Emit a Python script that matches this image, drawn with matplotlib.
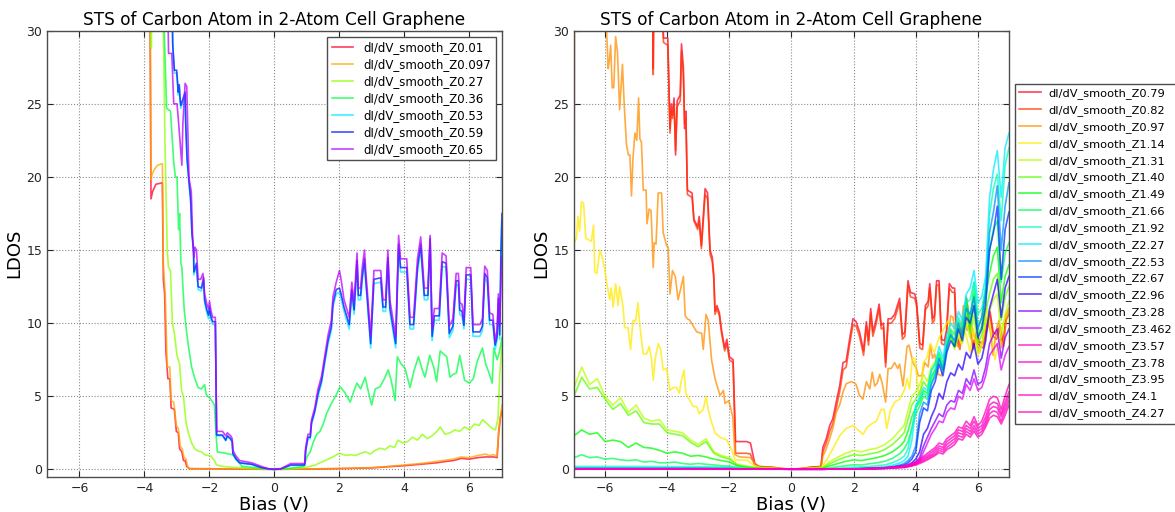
import matplotlib
matplotlib.use("Agg")
import matplotlib.pyplot as plt
from matplotlib import cm

# ---------------- left panel: tip heights Z0.01 ... Z0.65 ----------------
left_labels = ["dI/dV_smooth_Z0.01", "dI/dV_smooth_Z0.097", "dI/dV_smooth_Z0.27",
               "dI/dV_smooth_Z0.36", "dI/dV_smooth_Z0.53", "dI/dV_smooth_Z0.59",
               "dI/dV_smooth_Z0.65"]

# (bias, LDOS) samples
l_z001 = [(-3.85, 40), (-3.8, 18.5), (-3.75, 19.0), (-3.65, 19.5), (-3.45, 19.6), (-3.42, 13.0),
          (-3.38, 12.0), (-3.34, 8.0), (-3.28, 6.2), (-3.22, 6.2), (-3.18, 4.2), (-3.08, 4.1),
          (-3.02, 2.6), (-2.96, 2.5), (-2.92, 1.4), (-2.85, 1.2), (-2.8, 0.6), (-2.75, 0.6),
          (-2.7, 0.2), (-2.62, 0.05), (-1.0, 0.02), (0.0, 0.0), (1.0, 0.02), (2.0, 0.05),
          (3.0, 0.1), (3.5, 0.18), (4.0, 0.25), (4.5, 0.35), (5.0, 0.45), (5.3, 0.55),
          (5.5, 0.6), (5.75, 0.75), (6.0, 0.7), (6.25, 0.8), (6.5, 0.85), (6.75, 0.85),
          (6.85, 0.8), (6.9, 2.5), (6.95, 3.5), (7.0, 4.0)]
l_z0097 = [(-3.85, 40), (-3.82, 30), (-3.8, 19.8), (-3.76, 20.2), (-3.7, 20.5), (-3.6, 20.8),
           (-3.45, 20.9), (-3.42, 14.0), (-3.36, 12.0), (-3.3, 7.0), (-3.22, 7.0), (-3.18, 4.7),
           (-3.1, 4.6), (-3.02, 3.0), (-2.96, 2.8), (-2.9, 1.6), (-2.84, 1.4), (-2.78, 0.8),
           (-2.72, 0.7), (-2.66, 0.1), (-2.6, 0.03), (-1.0, 0.03), (0.0, 0.0), (1.0, 0.03),
           (2.0, 0.06), (3.0, 0.12), (3.5, 0.2), (4.0, 0.3), (4.5, 0.4), (5.0, 0.55),
           (5.5, 0.7), (5.75, 0.85), (6.0, 0.8), (6.25, 0.95), (6.5, 1.05), (6.6, 0.95),
           (6.75, 1.0), (6.85, 0.9), (6.9, 2.8), (7.0, 4.4)]
l_z027 = [(-3.82, 35), (-3.79, 28.8), (-3.76, 35), (-3.45, 35), (-3.42, 30.5), (-3.37, 22.3),
          (-3.3, 15.0), (-3.26, 13.8), (-3.2, 13.6), (-3.14, 10.0), (-3.08, 9.3), (-3.0, 7.8),
          (-2.92, 7.2), (-2.86, 5.4), (-2.8, 5.0), (-2.72, 3.2), (-2.65, 2.5), (-2.55, 1.8),
          (-2.45, 1.4), (-2.35, 1.25), (-2.25, 1.2), (-2.15, 1.0), (-2.05, 0.95), (-1.95, 0.9),
          (-1.85, 0.6), (-1.78, 0.3), (-1.6, 0.2), (-1.2, 0.12), (-0.6, 0.06), (0.0, 0.0),
          (0.6, 0.06), (1.0, 0.15), (1.25, 0.3), (1.5, 0.55), (1.75, 0.8), (2.0, 1.1),
          (2.2, 0.95), (2.35, 1.0), (2.5, 0.95), (2.65, 1.1), (2.8, 1.2), (2.95, 1.05),
          (3.1, 1.3), (3.25, 1.45), (3.4, 1.35), (3.55, 1.6), (3.7, 1.5), (3.8, 2.0),
          (3.95, 1.8), (4.1, 1.9), (4.25, 2.2), (4.4, 2.0), (4.55, 2.4), (4.7, 2.1),
          (4.85, 2.3), (5.0, 2.6), (5.1, 2.9), (5.25, 2.4), (5.4, 2.5), (5.55, 2.7),
          (5.7, 2.6), (5.85, 2.9), (6.0, 2.7), (6.15, 3.1), (6.3, 3.0), (6.4, 3.4),
          (6.55, 3.1), (6.7, 2.8), (6.8, 2.7), (6.88, 3.5), (6.93, 6.5), (7.0, 8.5)]
l_z036 = [(-3.45, 35), (-3.4, 30.5), (-3.32, 24.7), (-3.2, 24.5), (-3.1, 21.0), (-3.05, 20.0),
          (-3.0, 20.0), (-2.95, 16.4), (-2.92, 17.5), (-2.88, 14.1), (-2.85, 13.8), (-2.78, 11.0),
          (-2.7, 9.3), (-2.62, 8.0), (-2.55, 7.0), (-2.45, 6.2), (-2.35, 5.6), (-2.25, 5.5),
          (-2.15, 5.8), (-2.1, 5.1), (-2.0, 4.9), (-1.9, 4.6), (-1.85, 4.4), (-1.8, 2.5),
          (-1.76, 1.2), (-1.5, 1.1), (-1.3, 1.0), (-1.2, 0.8), (-1.1, 0.5), (-1.0, 0.2),
          (-0.5, 0.1), (0.0, 0.0), (0.5, 0.08), (0.9, 0.2), (1.0, 0.86), (1.1, 1.2),
          (1.2, 1.9), (1.3, 2.4), (1.4, 2.6), (1.5, 3.1), (1.6, 3.8), (1.75, 4.5),
          (1.9, 5.1), (2.02, 5.65), (2.15, 5.3), (2.33, 4.6), (2.45, 5.4), (2.54, 5.9),
          (2.65, 5.5), (2.79, 6.3), (2.9, 5.2), (2.99, 4.4), (3.1, 5.5), (3.25, 5.65),
          (3.38, 6.2), (3.5, 6.8), (3.6, 6.0), (3.71, 4.7), (3.78, 7.7), (3.9, 7.2),
          (4.02, 6.9), (4.1, 6.2), (4.17, 5.6), (4.3, 6.8), (4.43, 7.7), (4.55, 6.8),
          (4.63, 6.3), (4.78, 7.8), (4.9, 7.0), (4.99, 6.0), (5.1, 8.1), (5.3, 7.7),
          (5.4, 6.3), (5.5, 6.5), (5.6, 6.6), (5.7, 7.8), (5.85, 6.1), (6.0, 5.9),
          (6.12, 6.2), (6.24, 7.4), (6.4, 8.3), (6.5, 7.2), (6.6, 6.6), (6.7, 5.9),
          (6.75, 8.3), (6.85, 7.5), (6.92, 8.0), (7.0, 9.0)]
l_z053 = [(-3.18, 35), (-3.13, 29.0), (-3.08, 27.1), (-3.01, 27.1), (-2.96, 25.6), (-2.93, 26.1),
          (-2.9, 25.0), (-2.88, 24.7), (-2.75, 25.6), (-2.73, 23.4), (-2.69, 21.1), (-2.63, 19.5),
          (-2.58, 18.3), (-2.54, 16.0), (-2.49, 14.8), (-2.48, 13.3), (-2.4, 13.9), (-2.35, 12.3),
          (-2.25, 12.2), (-2.18, 12.9), (-2.15, 11.4), (-2.08, 10.7), (-2.03, 10.3), (-2.0, 10.9),
          (-1.95, 10.2), (-1.9, 9.9), (-1.82, 9.9), (-1.78, 2.3), (-1.6, 2.3), (-1.5, 1.95),
          (-1.45, 2.25), (-1.35, 2.05), (-1.3, 1.85), (-1.28, 1.05), (-1.18, 0.65), (-1.07, 0.42),
          (-0.7, 0.33), (-0.4, 0.11), (-0.2, 0.04), (0.0, 0.0), (0.2, 0.04), (0.5, 0.28),
          (0.93, 0.28), (0.96, 1.25), (1.03, 2.1), (1.1, 2.1), (1.14, 3.1), (1.24, 3.9),
          (1.34, 5.0), (1.45, 5.9), (1.55, 7.3), (1.65, 8.6), (1.75, 9.5), (1.8, 11.1),
          (1.9, 12.0), (2.0, 12.1), (2.05, 11.7), (2.14, 10.8), (2.3, 9.6), (2.38, 12.0),
          (2.45, 10.6), (2.54, 14.0), (2.58, 11.6), (2.65, 11.6), (2.7, 12.9), (2.77, 14.1),
          (2.81, 12.7), (2.86, 11.3), (2.96, 8.3), (3.06, 12.7), (3.27, 12.8), (3.34, 10.8),
          (3.42, 10.8), (3.49, 14.2), (3.55, 10.8), (3.73, 8.3), (3.82, 15.1), (3.88, 13.5),
          (4.07, 13.5), (4.17, 9.6), (4.28, 9.6), (4.4, 13.5), (4.5, 15.1), (4.61, 11.6),
          (4.72, 11.6), (4.79, 15.5), (4.85, 8.8), (4.92, 10.2), (5.07, 10.2), (5.16, 13.9),
          (5.28, 13.8), (5.38, 9.0), (5.49, 9.5), (5.59, 12.6), (5.66, 12.6), (5.7, 10.6),
          (5.77, 10.5), (5.83, 9.6), (5.9, 13.0), (6.04, 13.0), (6.11, 9.1), (6.32, 9.1),
          (6.4, 9.5), (6.47, 13.1), (6.55, 12.8), (6.62, 9.9), (6.72, 9.9), (6.79, 8.2),
          (6.85, 8.8), (6.89, 11.4), (6.93, 8.9), (6.97, 14.6), (7.0, 17.0)]
l_z059 = [(-3.18, 35), (-3.13, 29.0), (-3.08, 27.3), (-3.01, 27.3), (-2.96, 25.8), (-2.93, 26.3),
          (-2.9, 25.2), (-2.88, 24.9), (-2.75, 25.8), (-2.73, 23.6), (-2.69, 21.3), (-2.63, 19.7),
          (-2.58, 18.5), (-2.54, 16.2), (-2.49, 15.0), (-2.48, 13.5), (-2.4, 14.1), (-2.35, 12.5),
          (-2.25, 12.4), (-2.18, 13.1), (-2.15, 11.6), (-2.08, 10.9), (-2.03, 10.55), (-2.0, 11.1),
          (-1.95, 10.4), (-1.9, 10.1), (-1.82, 10.1), (-1.78, 2.35), (-1.6, 2.35), (-1.5, 2.0),
          (-1.45, 2.3), (-1.35, 2.1), (-1.3, 1.9), (-1.28, 1.1), (-1.18, 0.7), (-1.07, 0.45),
          (-0.7, 0.35), (-0.4, 0.12), (-0.2, 0.04), (0.0, 0.0), (0.2, 0.04), (0.5, 0.3),
          (0.93, 0.3), (0.96, 1.32), (1.03, 2.2), (1.1, 2.2), (1.14, 3.2), (1.24, 4.0),
          (1.34, 5.2), (1.45, 6.1), (1.55, 7.5), (1.65, 8.85), (1.75, 9.75), (1.8, 11.35),
          (1.9, 12.3), (2.0, 12.4), (2.05, 12.0), (2.14, 11.1), (2.3, 9.9), (2.38, 12.3),
          (2.45, 10.9), (2.54, 14.3), (2.58, 11.9), (2.65, 11.9), (2.7, 13.2), (2.77, 14.4),
          (2.81, 13.0), (2.86, 11.6), (2.96, 8.6), (3.06, 13.0), (3.27, 13.1), (3.34, 11.1),
          (3.42, 11.1), (3.49, 14.5), (3.55, 11.1), (3.73, 8.6), (3.82, 15.4), (3.88, 13.8),
          (4.07, 13.8), (4.17, 9.9), (4.28, 9.9), (4.4, 13.8), (4.5, 15.4), (4.61, 11.9),
          (4.72, 11.9), (4.79, 15.8), (4.85, 9.1), (4.92, 10.5), (5.07, 10.5), (5.16, 14.2),
          (5.28, 14.1), (5.38, 9.3), (5.49, 9.8), (5.59, 12.9), (5.66, 12.9), (5.7, 10.9),
          (5.77, 10.8), (5.83, 9.85), (5.9, 13.3), (6.04, 13.3), (6.11, 9.4), (6.32, 9.4),
          (6.4, 9.8), (6.47, 13.4), (6.55, 13.1), (6.62, 10.2), (6.72, 10.2), (6.79, 8.5),
          (6.85, 9.1), (6.89, 11.7), (6.93, 9.2), (6.97, 15.0), (7.0, 17.5)]
l_z065 = [(-3.3, 35), (-3.26, 28.45), (-3.16, 28.45), (-3.1, 25.0), (-3.0, 25.0), (-2.96, 24.0),
          (-2.85, 20.8), (-2.82, 23.6), (-2.75, 26.4), (-2.7, 26.2), (-2.63, 19.9), (-2.56, 19.0),
          (-2.52, 16.0), (-2.48, 14.5), (-2.45, 15.2), (-2.4, 15.0), (-2.35, 13.0), (-2.27, 13.0),
          (-2.2, 13.4), (-2.15, 12.0), (-2.08, 11.3), (-2.03, 11.0), (-2.0, 11.5), (-1.95, 10.8),
          (-1.9, 10.4), (-1.82, 10.4), (-1.78, 2.6), (-1.6, 2.6), (-1.5, 2.3), (-1.45, 2.5),
          (-1.35, 2.3), (-1.3, 2.1), (-1.28, 1.3), (-1.18, 0.9), (-1.07, 0.6), (-0.7, 0.45),
          (-0.4, 0.2), (-0.2, 0.05), (0.0, 0.0), (0.2, 0.05), (0.5, 0.4), (0.93, 0.4),
          (0.96, 1.5), (1.03, 2.4), (1.1, 2.4), (1.14, 3.4), (1.24, 4.2), (1.34, 5.5),
          (1.45, 6.4), (1.55, 7.8), (1.65, 9.2), (1.75, 10.2), (1.8, 11.8), (1.9, 12.8),
          (2.0, 13.6), (2.05, 13.0), (2.14, 11.6), (2.3, 10.4), (2.38, 12.8), (2.45, 11.4),
          (2.54, 14.8), (2.58, 12.4), (2.65, 12.4), (2.7, 13.8), (2.77, 15.0), (2.81, 13.5),
          (2.86, 12.1), (2.96, 9.1), (3.06, 13.6), (3.27, 13.6), (3.34, 11.6), (3.42, 11.6),
          (3.49, 15.0), (3.55, 11.6), (3.73, 9.1), (3.82, 16.0), (3.88, 14.4), (4.07, 14.4),
          (4.17, 10.4), (4.28, 10.4), (4.4, 14.4), (4.5, 15.9), (4.61, 12.4), (4.72, 12.4),
          (4.79, 16.0), (4.85, 9.6), (4.92, 11.0), (5.07, 11.0), (5.16, 14.8), (5.28, 14.6),
          (5.38, 9.8), (5.49, 10.3), (5.59, 13.4), (5.66, 13.4), (5.7, 11.4), (5.77, 11.3),
          (5.83, 10.3), (5.9, 13.8), (6.04, 13.8), (6.11, 9.9), (6.32, 9.9), (6.4, 10.3),
          (6.47, 13.9), (6.55, 13.6), (6.62, 10.7), (6.72, 10.6), (6.79, 8.8), (6.85, 9.5),
          (6.89, 12.0), (6.93, 9.8), (6.97, 13.0), (7.0, 14.5)]
left_series = [l_z001, l_z0097, l_z027, l_z036, l_z053, l_z059, l_z065]

# ---------------- right panel: tip heights Z0.79 ... Z4.27 ----------------
right_labels = ["dI/dV_smooth_Z0.79", "dI/dV_smooth_Z0.82", "dI/dV_smooth_Z0.97",
                "dI/dV_smooth_Z1.14", "dI/dV_smooth_Z1.31", "dI/dV_smooth_Z1.40",
                "dI/dV_smooth_Z1.49", "dI/dV_smooth_Z1.66", "dI/dV_smooth_Z1.92",
                "dI/dV_smooth_Z2.27", "dI/dV_smooth_Z2.53", "dI/dV_smooth_Z2.67",
                "dI/dV_smooth_Z2.96", "dI/dV_smooth_Z3.28", "dI/dV_smooth_Z3.462",
                "dI/dV_smooth_Z3.57", "dI/dV_smooth_Z3.78", "dI/dV_smooth_Z3.95",
                "dI/dV_smooth_Z4.1", "dI/dV_smooth_Z4.27"]

r_z079 = [(-7.0, 0.0), (-6.99, 34), (-4.47, 33), (-4.45, 27.4), (-4.43, 33), (-4.15, 32),
          (-4.12, 29.5), (-3.98, 29.5), (-3.91, 23.3), (-3.87, 25.0), (-3.83, 24.2), (-3.78, 25.4),
          (-3.73, 21.5), (-3.68, 25.2), (-3.58, 25.6), (-3.54, 29.1), (-3.48, 27.5), (-3.44, 23.3),
          (-3.4, 24.5), (-3.35, 19.1), (-3.2, 18.9), (-3.14, 17.1), (-3.02, 16.6), (-2.97, 17.3),
          (-2.9, 15.3), (-2.78, 19.2), (-2.7, 18.9), (-2.62, 15.0), (-2.55, 14.5), (-2.5, 13.3),
          (-2.46, 10.8), (-2.4, 11.2), (-2.32, 10.7), (-2.25, 9.5), (-2.15, 8.3), (-2.08, 8.9),
          (-2.0, 7.7), (-1.88, 7.5), (-1.8, 1.9), (-1.44, 1.9), (-1.32, 1.8), (-1.26, 1.2),
          (-1.18, 0.4), (-1.05, 0.2), (-0.6, 0.15), (-0.3, 0.05), (0.0, 0.02), (0.3, 0.05),
          (0.6, 0.15), (0.95, 0.2), (1.01, 1.5), (1.12, 2.1), (1.23, 3.0), (1.33, 3.45),
          (1.44, 4.6), (1.55, 5.7), (1.66, 7.3), (1.76, 7.4), (1.87, 8.9), (1.98, 10.3),
          (2.08, 10.1), (2.19, 9.4), (2.32, 8.1), (2.41, 10.1), (2.48, 8.8), (2.55, 11.0),
          (2.62, 9.4), (2.73, 10.3), (2.82, 11.3), (2.89, 9.85), (2.96, 10.0), (3.03, 7.3),
          (3.11, 10.3), (3.21, 10.3), (3.32, 10.6), (3.48, 11.7), (3.57, 9.2), (3.65, 9.4),
          (3.75, 12.9), (3.83, 12.1), (3.97, 12.0), (4.03, 11.4), (4.13, 8.6), (4.22, 8.5),
          (4.31, 11.2), (4.4, 11.5), (4.45, 12.7), (4.54, 10.3), (4.6, 10.5), (4.67, 12.9),
          (4.75, 12.9), (4.83, 8.9), (4.92, 8.8), (4.99, 9.5), (5.08, 12.7), (5.18, 12.4),
          (5.25, 12.4), (5.31, 9.2), (5.42, 8.5), (5.53, 10.3), (5.63, 11.7), (5.74, 9.85),
          (5.85, 8.5), (5.96, 9.4), (6.06, 8.7), (6.17, 8.6), (6.28, 9.85), (6.39, 10.8),
          (6.49, 9.4), (6.6, 9.2), (6.71, 9.85), (6.82, 8.7), (6.9, 10.5), (7.0, 11.0)]
r_z082 = [(-7.0, 0.0), (-6.99, 33), (-4.47, 32), (-4.45, 27.0), (-4.43, 32), (-4.15, 31),
          (-4.12, 29.2), (-3.98, 29.0), (-3.91, 23.0), (-3.87, 24.6), (-3.83, 24.0), (-3.78, 25.0),
          (-3.73, 21.8), (-3.68, 24.8), (-3.58, 25.2), (-3.54, 28.6), (-3.48, 27.0), (-3.44, 23.6),
          (-3.4, 24.0), (-3.35, 18.8), (-3.2, 18.6), (-3.14, 17.0), (-3.02, 16.4), (-2.97, 17.0),
          (-2.9, 15.1), (-2.78, 18.8), (-2.7, 18.5), (-2.62, 14.7), (-2.55, 14.2), (-2.5, 13.0),
          (-2.46, 10.6), (-2.4, 11.0), (-2.32, 10.5), (-2.25, 9.3), (-2.15, 8.1), (-2.08, 8.6),
          (-2.0, 7.5), (-1.88, 7.3), (-1.8, 1.1), (-1.44, 1.1), (-1.32, 1.05), (-1.26, 0.7),
          (-1.18, 0.3), (-1.05, 0.15), (-0.6, 0.1), (-0.3, 0.04), (0.0, 0.02), (0.3, 0.04),
          (0.6, 0.12), (0.95, 0.18), (1.01, 1.2), (1.12, 1.8), (1.23, 2.6), (1.33, 3.1),
          (1.44, 4.2), (1.55, 5.3), (1.66, 6.8), (1.76, 7.0), (1.87, 8.5), (1.98, 9.9),
          (2.08, 9.8), (2.19, 9.1), (2.32, 7.8), (2.41, 9.8), (2.48, 8.5), (2.55, 10.7),
          (2.62, 9.1), (2.73, 10.0), (2.82, 11.0), (2.89, 9.6), (2.96, 9.7), (3.03, 7.0),
          (3.11, 10.0), (3.21, 10.0), (3.32, 10.3), (3.48, 11.4), (3.57, 8.9), (3.65, 9.1),
          (3.75, 12.6), (3.83, 11.8), (3.97, 11.7), (4.03, 11.1), (4.13, 8.3), (4.22, 8.2),
          (4.31, 10.9), (4.4, 11.2), (4.45, 12.4), (4.54, 10.0), (4.6, 10.2), (4.67, 12.6),
          (4.75, 12.6), (4.83, 8.6), (4.92, 8.5), (4.99, 9.2), (5.08, 12.4), (5.18, 12.1),
          (5.25, 12.1), (5.31, 8.9), (5.42, 8.2), (5.53, 10.0), (5.63, 11.4), (5.74, 9.5),
          (5.85, 8.2), (5.96, 9.1), (6.06, 8.4), (6.17, 8.3), (6.28, 9.5), (6.39, 10.5),
          (6.49, 9.1), (6.6, 8.9), (6.71, 9.5), (6.82, 8.4), (6.9, 10.2), (7.0, 10.6)]
r_z097 = [(-7.0, 0.0), (-6.99, 34), (-6.0, 33), (-5.96, 30.5), (-5.9, 27.4), (-5.86, 28.0),
          (-5.82, 29.0), (-5.77, 26.1), (-5.72, 26.1), (-5.66, 29.6), (-5.6, 28.5), (-5.53, 24.6),
          (-5.44, 27.7), (-5.38, 24.8), (-5.31, 22.2), (-5.25, 21.5), (-5.2, 21.5), (-5.15, 18.7),
          (-5.1, 21.3), (-5.04, 23.0), (-4.98, 22.5), (-4.92, 25.4), (-4.88, 22.6), (-4.83, 22.4),
          (-4.77, 19.1), (-4.68, 19.1), (-4.65, 16.8), (-4.58, 17.8), (-4.52, 17.7), (-4.45, 13.8),
          (-4.42, 15.5), (-4.36, 15.4), (-4.29, 18.9), (-4.18, 18.9), (-4.13, 16.2), (-4.02, 15.3),
          (-3.97, 15.2), (-3.91, 12.0), (-3.83, 13.6), (-3.74, 13.2), (-3.65, 11.6), (-3.55, 12.5),
          (-3.48, 13.2), (-3.42, 10.5), (-3.35, 10.3), (-3.27, 10.2), (-3.05, 9.4), (-2.89, 9.3),
          (-2.84, 8.2), (-2.75, 10.6), (-2.68, 10.2), (-2.57, 7.45), (-2.46, 6.2), (-2.3, 5.05),
          (-2.19, 5.4), (-2.14, 4.5), (-2.02, 4.7), (-1.89, 3.6), (-1.82, 1.0), (-1.66, 0.85),
          (-1.33, 0.8), (-1.23, 0.55), (-1.12, 0.2), (-0.6, 0.1), (0.0, 0.02), (0.6, 0.1),
          (0.95, 0.15), (1.01, 0.9), (1.12, 1.4), (1.23, 2.1), (1.33, 2.8), (1.44, 3.9),
          (1.55, 4.4), (1.66, 5.3), (1.76, 5.85), (1.92, 6.0), (2.03, 5.9), (2.08, 5.8),
          (2.19, 5.05), (2.3, 4.8), (2.41, 6.0), (2.52, 5.5), (2.6, 6.65), (2.68, 5.7),
          (2.76, 5.9), (2.84, 6.5), (2.92, 5.9), (3.03, 4.6), (3.11, 6.9), (3.21, 6.9),
          (3.32, 7.3), (3.42, 6.9), (3.48, 7.2), (3.59, 5.7), (3.72, 8.4), (3.78, 8.5),
          (3.91, 7.3), (4.02, 6.9), (4.08, 6.4), (4.19, 6.4), (4.29, 7.3), (4.4, 7.0),
          (4.47, 8.5), (4.54, 7.6), (4.61, 7.9), (4.72, 6.5), (4.83, 6.4), (4.93, 7.8),
          (5.04, 8.5), (5.12, 10.5), (5.2, 10.4), (5.31, 8.5), (5.42, 8.3), (5.53, 11.2),
          (5.65, 9.5), (5.78, 10.0), (5.9, 9.0), (6.05, 8.0), (6.17, 9.0), (6.28, 10.3),
          (6.4, 9.5), (6.49, 7.8), (6.6, 9.6), (6.68, 10.2), (6.76, 8.3), (6.85, 9.0),
          (6.92, 10.3), (7.0, 10.8)]
r_z114 = [(-7.0, 15.5), (-6.92, 15.8), (-6.87, 17.3), (-6.82, 16.3), (-6.76, 18.3), (-6.69, 18.2),
          (-6.62, 15.8), (-6.44, 15.6), (-6.37, 16.7), (-6.33, 13.5), (-6.26, 13.4), (-6.17, 15.0),
          (-6.1, 14.6), (-6.01, 13.7), (-5.95, 12.8), (-5.85, 11.6), (-5.8, 12.4), (-5.74, 11.1),
          (-5.66, 12.7), (-5.58, 11.2), (-5.53, 12.5), (-5.42, 11.1), (-5.37, 9.7), (-5.26, 9.7),
          (-5.18, 8.2), (-5.1, 10.2), (-5.02, 10.1), (-4.94, 11.4), (-4.88, 9.8), (-4.77, 7.9),
          (-4.66, 7.9), (-4.58, 8.4), (-4.5, 7.5), (-4.45, 6.1), (-4.39, 7.5), (-4.29, 8.6),
          (-4.21, 8.2), (-4.13, 6.8), (-4.02, 6.9), (-3.91, 5.4), (-3.8, 5.6), (-3.7, 5.6),
          (-3.61, 5.2), (-3.54, 6.1), (-3.46, 6.8), (-3.4, 5.2), (-3.27, 4.7), (-3.16, 4.3),
          (-3.05, 4.3), (-2.97, 3.8), (-2.84, 4.1), (-2.75, 5.0), (-2.68, 4.1), (-2.57, 3.2),
          (-2.46, 2.5), (-2.3, 2.2), (-2.08, 2.0), (-1.92, 1.3), (-1.81, 0.64), (-1.44, 0.64),
          (-1.23, 0.3), (-1.0, 0.1), (0.0, 0.02), (0.95, 0.1), (1.05, 0.4), (1.15, 0.7),
          (1.33, 1.4), (1.55, 2.3), (1.76, 2.8), (1.98, 3.0), (2.14, 2.7), (2.3, 2.4),
          (2.45, 2.9), (2.57, 3.1), (2.73, 3.3), (2.89, 4.1), (2.98, 4.1), (3.07, 2.8),
          (3.18, 4.0), (3.32, 4.6), (3.48, 4.8), (3.65, 5.5), (3.72, 6.2), (3.8, 5.5),
          (3.89, 7.6), (3.97, 7.6), (4.08, 5.4), (4.15, 4.8), (4.24, 7.3), (4.35, 7.6),
          (4.47, 8.6), (4.6, 8.0), (4.75, 9.0), (4.9, 9.6), (5.05, 10.2), (5.15, 9.0),
          (5.3, 9.8), (5.45, 8.6), (5.6, 9.4), (5.75, 8.0), (5.85, 9.5), (6.0, 7.8),
          (6.15, 8.6), (6.3, 11.0), (6.45, 9.0), (6.55, 7.5), (6.7, 9.2), (6.85, 10.2),
          (7.0, 11.0)]

# bias grid shared by the Z1.31 ... Z1.66 curves
bias_full = [-7.0, -6.75, -6.5, -6.25, -6.0, -5.75, -5.5, -5.25, -5.0, -4.75, -4.5, -4.25,
             -4.0, -3.75, -3.5, -3.25, -3.0, -2.75, -2.5, -2.25, -2.0, -1.75, -1.5, -1.25,
             -1.0, -0.5, 0.0, 0.5, 1.0, 1.25, 1.5, 1.75, 2.0, 2.25, 2.5, 2.75, 3.0, 3.25,
             3.5, 3.625, 3.75, 3.875, 4.0, 4.125, 4.25, 4.375, 4.5, 4.625, 4.75, 4.875,
             5.0, 5.125, 5.25, 5.375, 5.5, 5.625, 5.75, 5.875, 6.0, 6.125, 6.25, 6.375,
             6.5, 6.625, 6.75, 6.875, 7.0]
r_z131 = [5.6, 7.0, 5.8, 6.2, 5.0, 4.4, 4.9, 3.9, 4.4, 3.5, 3.3, 3.4, 2.7, 2.6, 2.5, 2.0, 1.7,
          2.1, 1.2, 0.95, 0.8, 0.35, 0.25, 0.15, 0.1,
          0.05, 0.01, 0.05, 0.15,
          0.55, 0.85, 1.1, 1.3, 1.2, 1.35, 1.45, 1.7, 2.1, 2.7,
          3.0, 4.0, 5.0, 5.3, 5.8, 6.5, 6.0, 7.0, 7.4, 8.0, 7.2, 8.5, 9.0, 8.2, 9.2, 8.6,
          10.0, 9.0, 10.5, 8.0, 8.6, 10.0, 10.8, 11.6, 12.0, 9.0, 10.6, 11.5]
r_z140 = [5.0, 6.3, 5.5, 5.6, 4.8, 4.1, 4.5, 3.7, 4.0, 3.2, 3.1, 3.1, 2.5, 2.4, 2.3, 1.85, 1.55,
          1.9, 1.1, 0.85, 0.7, 0.3, 0.2, 0.12, 0.08,
          0.04, 0.01, 0.04, 0.1,
          0.4, 0.65, 0.85, 1.0, 0.95, 1.05, 1.15, 1.35, 1.7, 2.2,
          2.5, 3.4, 4.4, 4.8, 5.3, 6.0, 5.6, 6.7, 7.2, 7.9, 7.0, 8.6, 9.2, 8.4, 9.6, 9.0,
          10.6, 9.4, 11.2, 8.6, 9.2, 10.8, 12.0, 13.0, 13.4, 10.2, 11.8, 12.5]
r_z149 = [2.3, 2.7, 2.4, 2.5, 1.9, 2.0, 1.9, 1.5, 1.8, 1.5, 1.45, 1.3, 1.1, 1.2, 1.1, 0.9, 0.95,
          0.85, 0.7, 0.6, 0.5, 0.25, 0.15, 0.1, 0.06,
          0.03, 0.01, 0.03, 0.06,
          0.25, 0.4, 0.55, 0.65, 0.6, 0.7, 0.8, 0.95, 1.2, 1.6,
          1.9, 2.6, 3.6, 4.2, 4.6, 5.4, 5.2, 6.3, 6.8, 7.6, 6.8, 8.4, 9.2, 8.4, 9.8, 9.2,
          11.2, 9.8, 12.0, 9.2, 9.8, 11.8, 13.4, 14.6, 15.2, 11.4, 13.2, 14.0]
r_z166 = [0.8, 1.0, 0.8, 0.85, 0.7, 0.75, 0.65, 0.6, 0.65, 0.5, 0.55, 0.45, 0.45, 0.5, 0.4, 0.35,
          0.4, 0.35, 0.3, 0.25, 0.22, 0.12, 0.08, 0.05, 0.04,
          0.02, 0.01, 0.02, 0.03,
          0.1, 0.18, 0.25, 0.32, 0.3, 0.38, 0.45, 0.55, 0.75, 1.1,
          1.4, 1.9, 2.8, 3.8, 4.3, 5.0, 4.8, 6.0, 6.6, 7.5, 6.8, 8.5, 9.5, 8.6, 10.2, 9.6,
          11.8, 10.2, 12.8, 9.8, 10.4, 12.6, 15.0, 16.4, 17.0, 12.8, 14.8, 15.5]

# bias grid shared by the Z1.92 ... Z4.27 curves
bias_tail = [-7.0, -5.0, -3.0, -2.0, -1.5, -1.0, 0.0, 1.0, 1.5, 2.0, 2.5, 3.0, 3.25, 3.5,
             3.625, 3.75, 3.875, 4.0, 4.125, 4.25, 4.375, 4.5, 4.625, 4.75, 4.875, 5.0,
             5.125, 5.25, 5.375, 5.5, 5.625, 5.75, 5.875, 6.0, 6.125, 6.25, 6.375, 6.5,
             6.625, 6.75, 6.875, 7.0]
r_z192 = [0.2, 0.2, 0.18, 0.15, 0.06, 0.03, 0.01, 0.02, 0.08, 0.15, 0.2, 0.3, 0.45, 0.7,
          0.9, 1.4, 2.8, 4.4, 4.8, 5.2, 5.0, 6.4, 6.8, 8.0, 7.2, 8.8, 9.6, 9.2, 10.4, 9.8,
          11.4, 11.6, 12.8, 10.6, 11.0, 12.4, 17.4, 19.2, 20.2, 17.0, 20.8, 22.0]
r_z227 = [0.1, 0.1, 0.1, 0.08, 0.05, 0.02, 0.01, 0.01, 0.03, 0.06, 0.1, 0.18, 0.28, 0.45,
          0.6, 0.9, 2.0, 4.2, 5.0, 5.6, 5.4, 6.8, 7.2, 8.4, 7.6, 9.2, 10.0, 9.6, 10.8, 10.2,
          12.0, 12.4, 13.6, 11.4, 11.8, 13.2, 18.6, 20.5, 21.8, 18.6, 22.0, 23.0]
r_z253 = [0.05, 0.05, 0.05, 0.05, 0.03, 0.02, 0.01, 0.01, 0.02, 0.04, 0.07, 0.12, 0.18, 0.3,
          0.4, 0.6, 0.9, 1.6, 3.8, 4.6, 4.4, 5.8, 6.4, 7.6, 6.8, 8.4, 9.2, 8.8, 10.0, 9.2,
          11.0, 10.6, 11.8, 9.6, 10.4, 12.0, 16.2, 17.6, 19.4, 15.0, 18.0, 19.6]
r_z267 = [0.05, 0.05, 0.05, 0.04, 0.03, 0.02, 0.01, 0.01, 0.02, 0.03, 0.06, 0.1, 0.15, 0.25,
          0.3, 0.45, 0.7, 1.2, 3.2, 4.2, 4.0, 5.4, 6.0, 7.2, 6.4, 8.0, 8.8, 8.4, 9.6, 8.8,
          10.4, 10.0, 11.2, 9.0, 9.6, 11.2, 15.0, 16.2, 18.0, 13.0, 16.4, 17.6]
r_z296 = [0.04, 0.04, 0.04, 0.04, 0.03, 0.02, 0.01, 0.01, 0.02, 0.03, 0.05, 0.08, 0.12, 0.18,
          0.2, 0.3, 0.45, 0.7, 1.2, 2.4, 2.8, 3.6, 4.2, 5.2, 4.8, 6.0, 6.6, 6.4, 7.2, 6.8,
          8.0, 7.6, 8.6, 7.2, 7.6, 8.8, 11.0, 12.0, 13.0, 10.4, 12.4, 13.2]
r_z328 = [0.04, 0.04, 0.04, 0.03, 0.02, 0.02, 0.01, 0.01, 0.02, 0.03, 0.04, 0.07, 0.1, 0.14,
          0.15, 0.22, 0.32, 0.5, 0.8, 1.6, 2.2, 2.8, 3.3, 3.8, 3.6, 4.4, 4.7, 4.6, 5.4, 5.2,
          6.2, 5.8, 6.8, 5.8, 6.0, 7.0, 8.6, 9.2, 9.6, 7.6, 9.0, 9.6]
r_z3462 = [0.03, 0.03, 0.03, 0.03, 0.02, 0.02, 0.01, 0.01, 0.02, 0.03, 0.04, 0.06, 0.09, 0.12,
           0.12, 0.18, 0.25, 0.38, 0.6, 1.2, 1.8, 2.4, 2.8, 3.3, 3.2, 3.9, 4.2, 4.1, 5.0, 4.8,
           5.8, 5.4, 6.2, 5.4, 5.6, 6.4, 7.8, 8.2, 8.6, 6.8, 7.8, 8.4]
r_z357 = [0.03, 0.03, 0.03, 0.03, 0.02, 0.02, 0.01, 0.01, 0.02, 0.03, 0.06, 0.11, 0.16, 0.21,
          0.25, 0.32, 0.4, 0.5, 0.7, 0.9, 1.1, 1.3, 1.5, 1.8, 1.7, 2.1, 2.3, 2.5, 2.9, 2.8,
          3.3, 3.0, 3.6, 3.0, 3.3, 4.0, 4.8, 5.0, 4.9, 4.1, 5.0, 5.8]
r_z378 = [0.03, 0.03, 0.03, 0.03, 0.02, 0.02, 0.01, 0.01, 0.02, 0.03, 0.05, 0.1, 0.14, 0.19,
          0.22, 0.28, 0.35, 0.45, 0.6, 0.8, 0.95, 1.15, 1.35, 1.6, 1.5, 1.9, 2.1, 2.3, 2.7, 2.6,
          3.0, 2.8, 3.3, 2.8, 3.0, 3.6, 4.4, 4.6, 4.5, 3.8, 4.6, 5.3]
r_z395 = [0.03, 0.03, 0.03, 0.03, 0.02, 0.02, 0.01, 0.01, 0.02, 0.03, 0.05, 0.09, 0.13, 0.17,
          0.2, 0.25, 0.3, 0.4, 0.52, 0.7, 0.85, 1.0, 1.2, 1.45, 1.35, 1.7, 1.9, 2.1, 2.5, 2.4,
          2.8, 2.6, 3.0, 2.6, 2.8, 3.3, 4.1, 4.3, 4.2, 3.6, 4.3, 5.0]
r_z410 = [0.03, 0.03, 0.03, 0.03, 0.02, 0.02, 0.01, 0.01, 0.02, 0.03, 0.04, 0.08, 0.12, 0.15,
          0.17, 0.22, 0.27, 0.35, 0.46, 0.6, 0.75, 0.9, 1.05, 1.3, 1.2, 1.5, 1.7, 1.9, 2.3, 2.2,
          2.6, 2.4, 2.8, 2.4, 2.6, 3.1, 3.8, 4.0, 3.9, 3.3, 4.0, 4.7]
r_z427 = [0.03, 0.03, 0.03, 0.03, 0.02, 0.02, 0.01, 0.01, 0.02, 0.03, 0.04, 0.07, 0.11, 0.13,
          0.15, 0.19, 0.23, 0.3, 0.4, 0.52, 0.65, 0.8, 0.95, 1.15, 1.05, 1.35, 1.5, 1.7, 2.1, 2.0,
          2.4, 2.2, 2.6, 2.2, 2.4, 2.9, 3.5, 3.7, 3.6, 3.1, 3.7, 4.4]

right_series = [r_z079, r_z082, r_z097, r_z114]
right_series += [list(zip(bias_full, s)) for s in (r_z131, r_z140, r_z149, r_z166)]
right_series += [list(zip(bias_tail, s)) for s in (r_z192, r_z227, r_z253, r_z267, r_z296,
                                                   r_z328, r_z3462, r_z357, r_z378, r_z395,
                                                   r_z410, r_z427)]

left_colors = [cm.gist_rainbow(v) for v in (0.0, 0.15, 0.3, 0.45, 0.6, 0.75, 0.9)]
right_colors = [cm.gist_rainbow(min(i / 15.0, 1.0)) for i in range(len(right_labels))]

TITLE = "STS of Carbon Atom in 2-Atom Cell Graphene"

fig = plt.figure(figsize=(11.75, 5.12), dpi=100)
ax1 = fig.add_axes([0.040, 0.069, 0.3872, 0.871])
ax2 = fig.add_axes([0.4885, 0.069, 0.3702, 0.871])


def draw(ax, series, labels, colors):
    for pts, lab, col in zip(series, labels, colors):
        xs, ys = zip(*pts)
        ax.plot(xs, ys, color=col, lw=1.2, alpha=0.75, label=lab)
    ax.set_xlim(-7, 7)
    ax.set_ylim(-0.5, 30)
    ax.set_xticks([-6, -4, -2, 0, 2, 4, 6])
    ax.set_yticks([0, 5, 10, 15, 20, 25, 30])
    ax.grid(True, linestyle=":", color="0.55", linewidth=0.8)
    ax.tick_params(direction="in", top=True, right=True, labelsize=9, colors="0.15",
                   length=4)
    for sp in ax.spines.values():
        sp.set_color("0.3")
        sp.set_linewidth(1.0)
    ax.set_title(TITLE, fontsize=12.2, pad=4)
    ax.set_xlabel("Bias (V)", fontsize=13, labelpad=1)
    ax.set_ylabel("LDOS", fontsize=13, labelpad=2)


draw(ax1, left_series, left_labels, left_colors)
draw(ax2, right_series, right_labels, right_colors)

ax1.legend(loc="upper right", fontsize=8.5, frameon=True, fancybox=False, edgecolor="0.3",
           framealpha=1.0, handlelength=1.8, handletextpad=0.9, labelspacing=0.33,
           borderaxespad=0.5)
ax2.legend(loc="center left", bbox_to_anchor=(1.0, 0.5), fontsize=8.2, frameon=True,
           fancybox=False, edgecolor="0.3", framealpha=1.0, handlelength=1.9,
           handletextpad=0.7, labelspacing=0.52, borderaxespad=0.5)

fig.savefig("out.png", dpi=100)
